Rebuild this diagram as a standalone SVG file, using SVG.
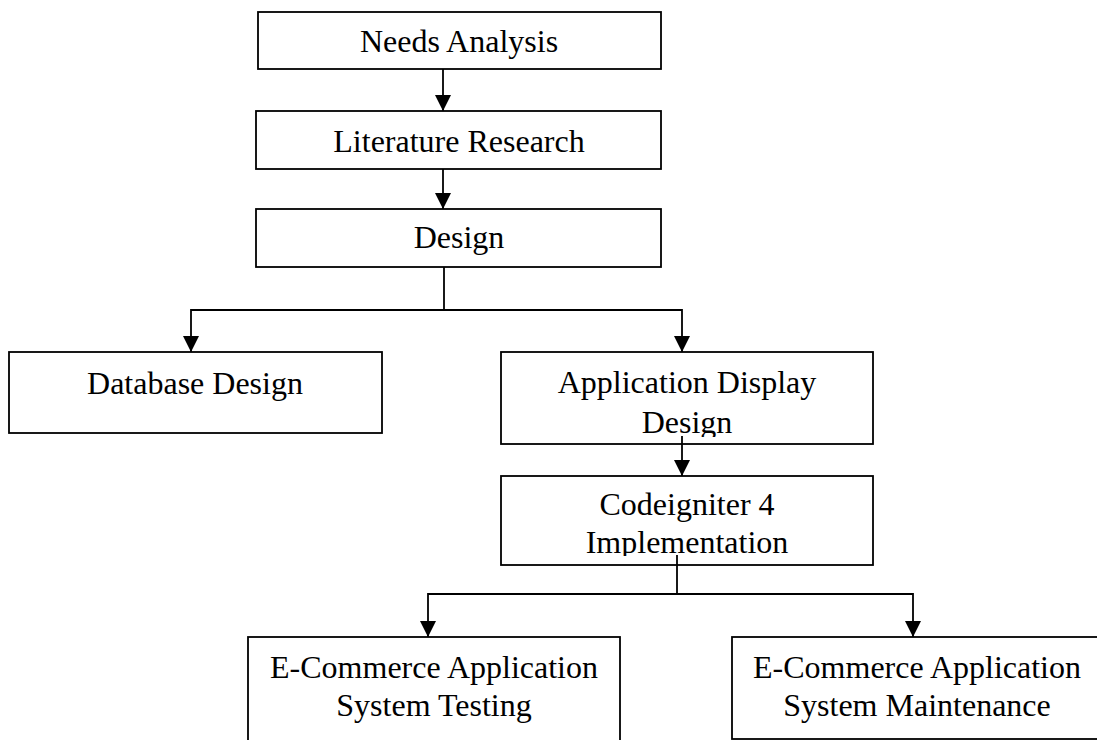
<svg xmlns="http://www.w3.org/2000/svg" width="1097" height="740" viewBox="0 0 1097 740">
<defs>
<style>
.box{fill:#fff;stroke:#000;stroke-width:1.8}
.lbl{font-family:"Liberation Serif","Times New Roman",serif;font-size:32px;fill:#000;text-anchor:middle}
.con{fill:none;stroke:#000;stroke-width:1.8}
</style>
<marker id="ah" viewBox="0 0 16 16" markerWidth="16" markerHeight="16" refX="16" refY="8" orient="auto" markerUnits="userSpaceOnUse">
<path d="M0,0 L16,8 L0,16 z" fill="#000"/>
</marker>
<clipPath id="c5"><rect x="501" y="352" width="372" height="85"/></clipPath>
<clipPath id="c6"><rect x="501" y="476" width="372" height="80"/></clipPath>
</defs>
<rect width="1097" height="740" fill="#fff"/>
<g id="n1"><rect class="box" x="258" y="12" width="403" height="57"/><text class="lbl" x="459" y="52">Needs Analysis</text></g>
<g id="n2"><rect class="box" x="256" y="111" width="405" height="58"/><text class="lbl" x="459" y="152">Literature Research</text></g>
<g id="n3"><rect class="box" x="256" y="209" width="405" height="58"/><text class="lbl" x="459" y="248">Design</text></g>
<g id="n4"><rect class="box" x="9" y="352" width="373" height="81"/><text class="lbl" x="195" y="394">Database Design</text></g>
<g id="n5"><rect class="box" x="501" y="352" width="372" height="92"/><g clip-path="url(#c5)"><text class="lbl" x="687" y="393">Application Display</text><text class="lbl" x="687" y="433">Design</text></g></g>
<g id="n6"><rect class="box" x="501" y="476" width="372" height="89"/><g clip-path="url(#c6)"><text class="lbl" x="687" y="515">Codeigniter 4</text><text class="lbl" x="687" y="553">Implementation</text></g></g>
<g id="n7"><rect class="box" x="248" y="637" width="372" height="110"/><text class="lbl" x="434" y="678">E-Commerce Application</text><text class="lbl" x="434" y="716">System Testing</text></g>
<g id="n8"><rect class="box" x="732" y="637" width="372" height="102"/><text class="lbl" x="917" y="678">E-Commerce Application</text><text class="lbl" x="917" y="716">System Maintenance</text></g>
<g id="connectors">
<path class="con" d="M443,69 V111" marker-end="url(#ah)"/>
<path class="con" d="M443,169 V209" marker-end="url(#ah)"/>
<path class="con" d="M444,267 V310"/>
<path class="con" d="M444,310 H191 V352" marker-end="url(#ah)"/>
<path class="con" d="M444,310 H682 V352" marker-end="url(#ah)"/>
<path class="con" d="M682,436 V476" marker-end="url(#ah)"/>
<path class="con" d="M677,555 V594"/>
<path class="con" d="M677,594 H428 V637" marker-end="url(#ah)"/>
<path class="con" d="M677,594 H913 V637" marker-end="url(#ah)"/>
</g>
</svg>
